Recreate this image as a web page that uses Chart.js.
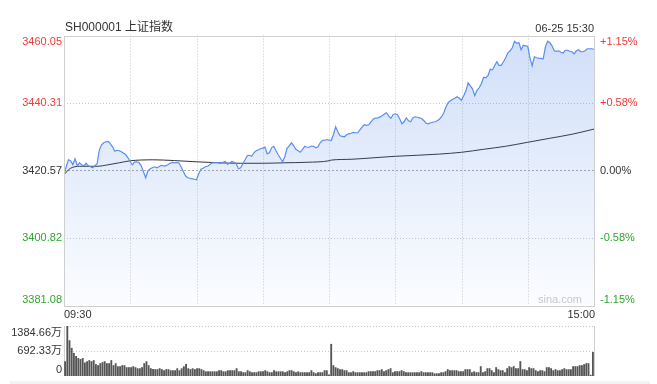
<!DOCTYPE html>
<html>
<head>
<meta charset="utf-8">
<script src="https://cdn.jsdelivr.net/npm/chart.js@4.4.1/dist/chart.umd.min.js"></script>
<style>
  body { margin: 0; background: #fff; }
  #wrap { position: relative; width: 657px; height: 384px; overflow: hidden; }
  #wrap canvas { position: absolute; left: 0; top: 0; }
  .band { position: absolute; left: 10px; top: 381px; width: 640px; height: 3px; background: #f2f2f2; }
</style>
</head>
<body>
<div id="wrap">
  <div class="band"></div>
  <canvas id="price" width="657" height="384"></canvas>
  <canvas id="vol" width="657" height="384"></canvas>
</div>
<script>
// 上证指数 分时 06-25, one point per minute (0 = 09:30, 120 = 11:30/13:00, 240 = 15:00)
const title = 'SH000001 上证指数';
const stamp = '06-25 15:30';
const timeLabels = ['09:30', '15:00'];
const prevClose = 3420.57;
const priceTicks = [3460.05, 3440.31, 3420.57, 3400.82, 3381.08];
const pctTicks = ['+1.15%', '+0.58%', '0.00%', '-0.58%', '-1.15%'];
const volTicks = ['1384.66万', '692.33万', '0'];
const volMax = 1384.66;
const gridMinutes = [30, 60, 90, 120, 150, 180, 210];

const price = [
  3419.31, 3421.65, 3423.70, 3423.41, 3422.24, 3423.99, 3421.94, 3422.82, 3422.24, 3421.94,
  3422.68, 3421.94, 3421.65, 3421.36, 3421.94, 3422.53, 3426.62, 3428.09, 3428.67, 3428.96,
  3429.05, 3428.38, 3427.50, 3426.19, 3426.48, 3426.33, 3426.04, 3425.60, 3425.16, 3424.28,
  3423.11, 3422.24, 3423.11, 3423.11, 3422.82, 3421.94, 3420.19, 3418.43, 3420.48, 3421.07,
  3421.36, 3421.65, 3421.36, 3421.65, 3422.09, 3421.94, 3421.94, 3422.24, 3422.68, 3422.91,
  3422.82, 3422.91, 3422.82, 3421.65, 3420.34, 3419.02, 3418.43, 3418.29, 3418.14, 3418.00,
  3417.85, 3419.60, 3420.92, 3421.21, 3421.65, 3421.80, 3422.24, 3422.82, 3422.82, 3422.91,
  3422.82, 3422.68, 3422.97, 3423.20, 3422.38, 3422.68, 3423.20, 3422.97, 3422.53, 3421.07,
  3421.36, 3422.53, 3423.70, 3424.87, 3425.02, 3424.72, 3425.75, 3426.33, 3426.62, 3426.92,
  3427.12, 3427.41, 3425.45, 3425.75, 3427.21, 3427.65, 3426.33, 3425.16, 3424.14, 3423.11,
  3424.58, 3427.06, 3427.79, 3428.67, 3427.79, 3426.77, 3426.33, 3425.89, 3426.77, 3427.65,
  3427.36, 3427.36, 3427.71, 3427.65, 3427.21, 3427.50, 3428.67, 3429.35, 3429.46, 3429.55,
  3429.49, 3429.35, 3431.01, 3433.35, 3431.89, 3430.72, 3430.57, 3430.43, 3431.01, 3431.30,
  3431.45, 3431.69, 3431.60, 3431.60, 3432.47, 3433.35, 3433.94, 3433.79, 3433.94, 3434.81,
  3435.55, 3435.90, 3435.98, 3436.19, 3436.57, 3437.01, 3437.45, 3436.57, 3435.84, 3436.86,
  3437.15, 3436.86, 3435.69, 3434.23, 3434.81, 3435.98, 3435.11, 3434.81, 3435.98, 3436.28,
  3436.13, 3435.98, 3435.69, 3435.11, 3434.38, 3434.23, 3434.52, 3434.67, 3434.81, 3435.11,
  3435.55, 3436.28, 3437.45, 3439.20, 3440.46, 3440.96, 3441.40, 3441.69, 3442.13, 3441.69,
  3441.10, 3442.42, 3443.88, 3446.22, 3445.34, 3444.47, 3442.42, 3444.03, 3444.76, 3445.93,
  3447.83, 3447.68, 3448.27, 3450.17, 3450.02, 3451.19, 3452.36, 3451.34, 3451.34, 3452.36,
  3453.53, 3455.00, 3455.58, 3456.46, 3458.36, 3457.78, 3457.92, 3455.87, 3457.19, 3457.04,
  3456.90, 3453.53, 3451.19, 3453.83, 3453.53, 3453.44, 3453.38, 3453.24, 3456.75, 3458.36,
  3457.92, 3457.04, 3455.58, 3455.43, 3455.58, 3455.14, 3454.91, 3455.73, 3455.73, 3455.43,
  3455.29, 3454.70, 3455.58, 3455.87, 3455.29, 3455.29, 3455.58, 3456.17, 3456.17, 3456.17,
  3456.02
];

// average price line, read at these minutes
const avgMinutes = [0, 2, 4, 8, 15, 20, 25, 30, 35, 40, 50, 60, 70, 80, 90, 100, 110, 120,
  121, 130, 140, 150, 160, 170, 180, 190, 200, 210, 220, 230, 240];
const avgPrice = [3419.31, 3420.77, 3421.51, 3421.80, 3421.80, 3422.24, 3422.82, 3423.41, 3423.64,
  3423.70, 3423.47, 3423.11, 3422.82, 3422.68, 3422.68, 3422.82, 3422.97, 3423.41,
  3423.61, 3423.85, 3424.28, 3424.72, 3425.02, 3425.37, 3425.89, 3426.77, 3427.65, 3428.82,
  3429.99, 3431.16, 3432.68];

// volume in 万
const volume = [
  400, 1384.66, 980, 770, 630, 545, 490, 460, 490, 365,
  400, 430, 400, 430, 320, 290, 345, 375, 400, 345,
  345, 430, 290, 345, 260, 260, 290, 290, 235, 235,
  235, 260, 235, 205, 205, 235, 345, 400, 290, 205,
  185, 180, 180, 205, 180, 150, 180, 180, 150, 150,
  150, 205, 150, 205, 260, 320, 205, 180, 205, 180,
  205, 205, 180, 150, 120, 120, 120, 120, 120, 120,
  150, 150, 120, 120, 150, 150, 150, 150, 205, 120,
  120, 95, 95, 150, 120, 95, 95, 95, 120, 120,
  120, 150, 120, 95, 95, 150, 120, 120, 120, 120,
  95, 120, 150, 150, 120, 95, 120, 95, 95, 95,
  95, 95, 150, 95, 65, 95, 95, 95, 150, 150,
  30,
  880, 290, 234, 206, 178, 178, 150, 150, 94, 94,
  122, 94, 94, 94, 94, 94, 94, 122, 122, 122,
  122, 150, 150, 178, 122, 150, 178, 206, 94, 122,
  122, 122, 150, 122, 94, 94, 94, 94, 94, 94,
  94, 122, 94, 94, 94, 94, 94, 65, 65, 65,
  94, 94, 122, 178, 150, 150, 150, 150, 122, 122,
  122, 178, 178, 178, 94, 122, 94, 94, 262, 94,
  122, 206, 206, 150, 94, 234, 178, 150, 150, 94,
  206, 262, 234, 262, 206, 206, 402, 178, 178, 150,
  234, 206, 206, 150, 122, 150, 150, 122, 234, 234,
  206, 150, 178, 150, 150, 178, 206, 178, 178, 178,
  262, 262, 262, 290, 290, 318, 346, 346, 25, 655
];

const FONT = 'Arial, "Liberation Sans", "Noto Sans CJK SC", sans-serif';
const RED = '#f23a3a';
const GREEN = '#2ea52e';
const TEXT = '#333';

function hline(ctx, x1, x2, y) {
  ctx.beginPath(); ctx.moveTo(x1, y); ctx.lineTo(x2, y); ctx.stroke();
}
function vline(ctx, x, y1, y2) {
  ctx.beginPath(); ctx.moveTo(x, y1); ctx.lineTo(x, y2); ctx.stroke();
}

const priceDeco = {
  id: 'priceDeco',
  beforeDatasetsDraw(chart) {
    const { ctx, chartArea: a, scales: { x, y } } = chart;
    ctx.save();
    ctx.lineWidth = 1;
    ctx.strokeStyle = '#c8c8c8';
    ctx.setLineDash([1, 2]);
    gridMinutes.forEach(m => vline(ctx, Math.round(x.getPixelForValue(m)) + 0.5, a.top, a.bottom));
    priceTicks.slice(1, -1).forEach(v => {
      if (v === prevClose) return;
      hline(ctx, a.left, a.right, Math.round(y.getPixelForValue(v)) + 0.5);
    });
    ctx.strokeStyle = '#a8a8a8';
    ctx.setLineDash([2, 2]);
    hline(ctx, a.left, a.right, Math.round(y.getPixelForValue(prevClose)) + 0.5);
    ctx.restore();
  },
  afterDraw(chart) {
    const { ctx, chartArea: a, scales: { y } } = chart;
    ctx.save();
    ctx.strokeStyle = '#cfcfcf';
    ctx.lineWidth = 1;
    ctx.strokeRect(Math.round(a.left) + 0.5, Math.round(a.top) + 0.5,
      Math.round(a.right - a.left), Math.round(a.bottom - a.top));

    ctx.font = '11px ' + FONT;
    ctx.textBaseline = 'middle';
    priceTicks.forEach((v, i) => {
      let py = y.getPixelForValue(v);
      if (i === 0) py += 6;
      if (i === priceTicks.length - 1) py -= 6;
      const col = v > prevClose ? RED : (v < prevClose ? GREEN : TEXT);
      ctx.fillStyle = col;
      ctx.textAlign = 'right';
      ctx.fillText(v.toFixed(2), a.left - 2, py);
      ctx.textAlign = 'left';
      ctx.fillText(pctTicks[i], a.right + 6, py);
    });

    ctx.fillStyle = TEXT;
    ctx.font = '12px ' + FONT;
    ctx.textAlign = 'left';
    ctx.fillText(title, a.left + 1, a.top - 8);
    ctx.font = '11px ' + FONT;
    ctx.textAlign = 'right';
    ctx.fillText(stamp, a.right, a.top - 7);

    ctx.textAlign = 'left';
    ctx.fillText(timeLabels[0], a.left, a.bottom + 9);
    ctx.textAlign = 'right';
    ctx.fillText(timeLabels[1], a.right + 1, a.bottom + 9);

    ctx.fillStyle = '#c8c8c8';
    ctx.textAlign = 'right';
    ctx.fillText('sina.com', a.right - 12, a.bottom - 6);
    ctx.restore();
  }
};

const volDeco = {
  id: 'volDeco',
  beforeDatasetsDraw(chart) {
    const { ctx, chartArea: a, scales: { y } } = chart;
    ctx.save();
    ctx.lineWidth = 1;
    ctx.strokeStyle = '#c8c8c8';
    ctx.setLineDash([1, 2]);
    hline(ctx, a.left, a.right, Math.round(y.getPixelForValue(volMax)) + 0.5);
    hline(ctx, a.left, a.right, Math.round(y.getPixelForValue(volMax / 2)) + 0.5);
    ctx.setLineDash([]);
    ctx.strokeStyle = '#cfcfcf';
    vline(ctx, Math.round(a.left) + 0.5, a.top, a.bottom);
    vline(ctx, Math.round(a.right) + 0.5, a.top, a.bottom);
    ctx.restore();
  },
  afterDraw(chart) {
    const { ctx, chartArea: a, scales: { y } } = chart;
    ctx.save();
    ctx.font = '11px ' + FONT;
    ctx.fillStyle = TEXT;
    ctx.textAlign = 'right';
    ctx.textBaseline = 'middle';
    ctx.fillText(volTicks[0], a.left - 2, y.getPixelForValue(volMax) + 7);
    ctx.fillText(volTicks[1], a.left - 2, y.getPixelForValue(volMax / 2));
    ctx.fillText(volTicks[2], a.left - 2, y.getPixelForValue(0) - 6);
    ctx.restore();
  }
};

function areaFill(context) {
  const { ctx, chartArea } = context.chart;
  if (!chartArea) return 'rgba(60,120,230,0.15)';
  const g = ctx.createLinearGradient(0, chartArea.top, 0, chartArea.bottom);
  g.addColorStop(0, 'rgba(60,120,230,0.24)');
  g.addColorStop(1, 'rgba(60,120,230,0.02)');
  return g;
}

new Chart(document.getElementById('price'), {
  type: 'line',
  data: {
    datasets: [
      {
        data: price.map((v, i) => ({ x: i, y: v })),
        borderColor: '#5a8ef0',
        borderWidth: 1.2,
        backgroundColor: areaFill,
        fill: 'start',
        pointRadius: 0,
        tension: 0
      },
      {
        data: avgMinutes.map((m, i) => ({ x: m, y: avgPrice[i] })),
        borderColor: '#333',
        borderWidth: 1,
        fill: false,
        pointRadius: 0,
        cubicInterpolationMode: 'monotone'
      }
    ]
  },
  options: {
    responsive: false,
    animation: false,
    layout: { padding: { left: 64, right: 63, top: 35.5, bottom: 78.5 } },
    plugins: { legend: { display: false }, tooltip: { enabled: false } },
    scales: {
      x: { type: 'linear', min: 0, max: 240, display: false },
      y: { min: priceTicks[4], max: priceTicks[0], display: false }
    }
  },
  plugins: [priceDeco]
});

new Chart(document.getElementById('vol'), {
  type: 'bar',
  data: {
    labels: volume.map((v, i) => String(i)),
    datasets: [{
      data: volume,
      backgroundColor: '#555',
      barThickness: 1.2
    }]
  },
  options: {
    responsive: false,
    animation: false,
    layout: { padding: { left: 64, right: 63, top: 326, bottom: 8 } },
    plugins: { legend: { display: false }, tooltip: { enabled: false } },
    scales: {
      x: { type: 'category', offset: true, display: false },
      y: { min: 0, max: volMax, display: false }
    }
  },
  plugins: [volDeco]
});
</script>
</body>
</html>
